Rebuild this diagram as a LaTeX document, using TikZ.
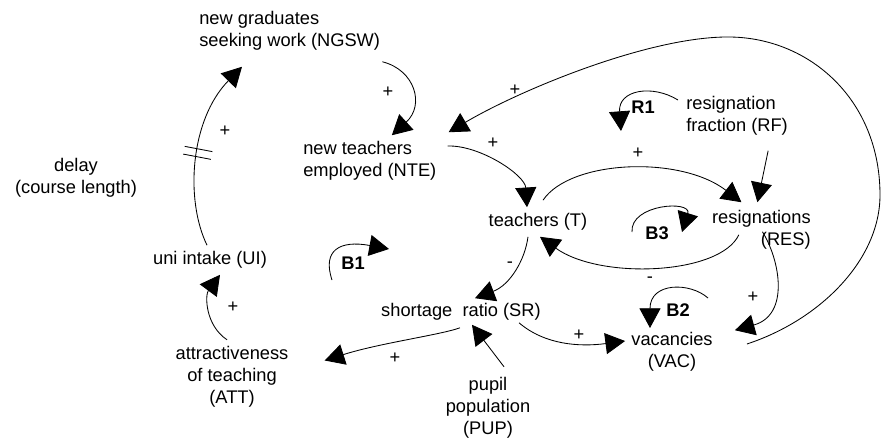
\documentclass[tikz,border=0pt]{standalone}
\usepackage{fontspec}
\setmainfont{Liberation Sans}
\usepackage{tikz}
\usetikzlibrary{arrows.meta,decorations.markings}
\newcommand*{\wMax}{883}
\newcommand*{\hMax}{440}
\newcommand*{\varFont}{\fontsize{13pt}{15.6pt}\selectfont}
\tikzset{
	var/.style={font=\varFont,inner sep=0pt},
	loopname/.style={font=\varFont\bfseries,inner sep=0pt},
	sign/.style={font=\varFont,inner sep=0pt},
	link/.style={line width=0.6pt,-{Triangle[length=14pt,width=15pt]}},
	delaymarks/.style={postaction={decorate,decoration={markings,mark=at position #1 with {\draw[-,line width=0.6pt] (-2.8pt,-10pt) -- (-2.8pt,10pt) (2.8pt,-10pt) -- (2.8pt,10pt);}}}},
	delaymarks/.default=0.5
}
\begin{document}
\begin{tikzpicture}[x=0.025cm,y=-0.025cm]
		\useasboundingbox (0,0) rectangle (\wMax,\hMax);
%
		\node[var,anchor=west,align=left] (ngsw) at (199,31) {new graduates\\seeking work (NGSW)};
		\node[var,anchor=west,align=left] (nte) at (303,161) {new teachers\\employed (NTE)};
		\node[var,align=center] (delay) at (76,177.5) {delay\\(course length)};
		\node[var] (ui) at (210,260) {uni intake (UI)};
		\node[var,align=center] (att) at (232,376.5) {attractiveness\\of teaching\\(ATT)};
		\node[var] (sr) at (461,312) {shortage\ \ ratio (SR)};
		\node[var,align=center] (pup) at (488,407.5) {pupil\\population\\(PUP)};
		\node[var,align=center] (vac) at (672,352) {vacancies\\(VAC)};
		\node[var] (t) at (538,222) {teachers (T)};
		\node[var,anchor=east,align=right] (res) at (811,230) {resignations\\(RES)};
		\node[var,anchor=west,align=left] (rf) at (686,116) {resignation\\fraction (RF)};
%
		% links between variables
		\draw[link] ([shift={(2,11)}]ngsw.south east) .. controls (415,70) and (425,105) .. ([shift={(22,-6)}]nte.north);
		\draw[link,delaymarks=0.49] ([shift={(-3,-6)}]ui.north) .. controls (185,200) and (190,120) .. ([shift={(43,16)}]ngsw.south west);
		\draw[link] ([shift={(-5,-6)}]att.north) .. controls (205,325) and (205,295) .. ([shift={(10,6)}]ui.south);
		\draw[link] ([shift={(-1,7)}]sr.south) .. controls (440,335) and (380,343) .. ([shift={(36,-16)}]att.east);
		\draw[link] ([shift={(16,-10)}]pup.north) -- ([shift={(11,4)}]sr.south);
		\draw[link] ([shift={(-10,6)}]t.south) .. controls (525,260) and (510,285) .. ([shift={(14,-5)}]sr.north);
		\draw[link] ([shift={(-22,2)}]sr.south east) .. controls (545,345) and (580,347) .. ([shift={(-6,-11)}]vac.west);
		\draw[link] ([shift={(11,-15)}]nte.east) .. controls (480,145) and (525,175) .. ([shift={(-11,-6)}]t.north);
		\draw[link] ([shift={(5,-13)}]t.north) .. controls (570,160) and (680,155) .. ([shift={(-20,-8)}]res.north);
		\draw[link] ([shift={(-20,15)}]rf.south east) -- ([shift={(-4,-8)}]res.north);
		\draw[link] ([shift={(27,-15)}]res.south west) .. controls (720,275) and (600,280) .. ([shift={(2,6)}]t.south);
		\draw[link] ([shift={(1,-18)}]res.south) .. controls (780,260) and (790,315) .. ([shift={(22,-2)}]vac.north east);
		\draw[link] ([shift={(34,-8)}]vac.east) .. controls (820,320) and (880,260) .. (880,195)
				.. controls (880,100) and (810,38) .. (730,37)
				.. controls (650,36) and (520,90) .. ([shift={(12,-9)}]nte.north east);
%
		% polarities
		\foreach \name/\x/\y/\s in {s1/388/92/+,s2/225/131/+,s3/515/90/+,s4/493/143/+,s5/638/153/+,s6/510/265/-,s7/650/280/-,s8/753/297/+,s9/233/307/+,s10/395/358/+,s11/579/335/+} {
				\node[sign] (\name) at (\x,\y) {\s};
			}
%
		% loops
		\node[loopname] (r1) at (643,107) {R1};
		\node[loopname] (b1) at (353,263) {B1};
		\node[loopname] (b2) at (678,310) {B2};
		\node[loopname] (b3) at (657,233) {B3};
		\coordinate (r1a) at (678,100);
		\coordinate (r1b) at (621,131);
		\coordinate (b1a) at (332,280);
		\coordinate (b1b) at (389,249);
		\coordinate (b2a) at (708,298);
		\coordinate (b2b) at (650,328);
		\coordinate (b3a) at (632,232);
		\coordinate (b3b) at (682,232);
		\draw[link] (r1a) .. controls (652,84) and (618,90) .. (r1b);
		\draw[link] (b1a) .. controls (322,250) and (340,240) .. (b1b);
		\draw[link] (b2a) .. controls (690,282) and (650,282) .. (b2b);
		\draw[link] (b3a) .. controls (630,204) and (692,200) .. (b3b);
\end{tikzpicture}
\end{document}
